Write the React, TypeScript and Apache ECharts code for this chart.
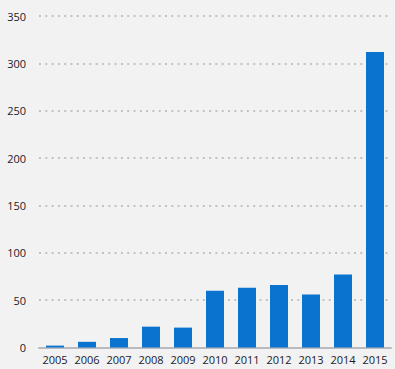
import React, { useEffect, useRef } from "react";
import * as echarts from "echarts";

const categories = ["2005", "2006", "2007", "2008", "2009", "2010", "2011", "2012", "2013", "2014", "2015"];
const values = [2, 6, 10, 22, 21, 60, 63, 66, 56, 77, 312];
const yTicks = [0, 50, 100, 150, 200, 250, 300, 350];

export default function App() {
  const ref = useRef<HTMLDivElement>(null);
  useEffect(() => {
    if (!ref.current) return;
    const chart = echarts.init(ref.current, null, { renderer: "svg" });
    chart.setOption({
      animation: false,
      backgroundColor: "#f2f2f2",
      textStyle: { fontFamily: "Open Sans, Noto Sans, sans-serif" },
      grid: { left: 39, right: 4, top: 16, bottom: 21.5, containLabel: false },
      xAxis: {
        type: "category",
        data: categories,
        axisLine: { show: true, lineStyle: { color: "#b9b9c0", width: 2 } },
        axisTick: { show: false },
        axisLabel: { color: "#1a1a2a", fontSize: 11, margin: 6, interval: 0 },
      },
      yAxis: {
        type: "value",
        min: yTicks[0],
        max: yTicks[yTicks.length - 1],
        interval: 50,
        axisLine: { show: false },
        axisTick: { show: false },
        axisLabel: { color: "#1a1a2a", fontSize: 11, margin: 13 },
        splitLine: {
          show: true,
          lineStyle: { color: "#c2c2c2", type: [2, 4.3], width: 2 },
        },
      },
      series: [
        {
          type: "bar",
          data: values,
          barWidth: 18,
          itemStyle: { color: "#0a73d0" },
        },
      ],
    });
    return () => chart.dispose();
  }, []);
  return <div ref={ref} style={{ position: "absolute", left: 0, top: 0, width: 395, height: 369 }} />;
}
